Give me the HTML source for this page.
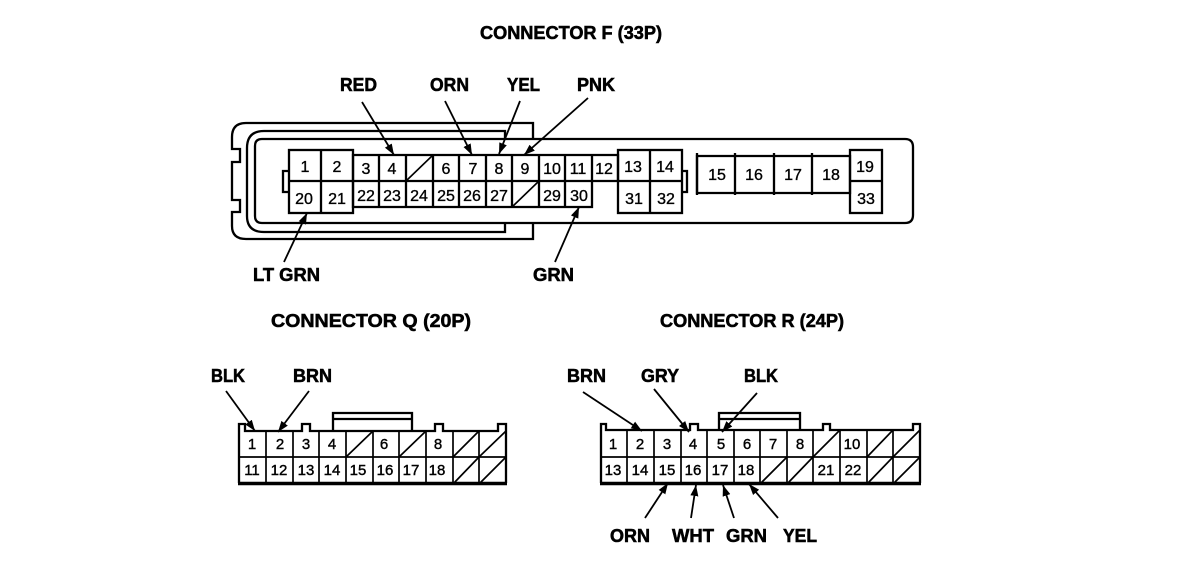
<!DOCTYPE html>
<html><head><meta charset="utf-8"><style>
html,body{margin:0;padding:0;background:#fff}
svg{display:block}
.l{font:bold 18px "Liberation Sans",sans-serif;fill:#000;stroke:#000;stroke-width:.55}
.n text{font:16px "Liberation Sans",sans-serif;text-anchor:middle;fill:#000;stroke:#000;stroke-width:.35}
.m text{font:15px "Liberation Sans",sans-serif;text-anchor:middle;fill:#000;stroke:#000;stroke-width:.4}
.s{fill:none;stroke:#000;stroke-width:2.3}
.t{fill:none;stroke:#000;stroke-width:1.6}
.d{fill:none;stroke:#000;stroke-width:1.7}
.a{fill:none;stroke:#000;stroke-width:1.8;marker-end:url(#h)}
</style></head><body>
<svg width="1184" height="570" viewBox="0 0 1184 570" xmlns="http://www.w3.org/2000/svg">
<defs><marker id="h" markerUnits="userSpaceOnUse" markerWidth="13" markerHeight="10" refX="11" refY="5" orient="auto"><path d="M0,1L11,5L0,9Z" fill="#000"/></marker></defs>

<!-- titles -->
<text class="l" x="480" y="39" textLength="182" lengthAdjust="spacingAndGlyphs">CONNECTOR F (33P)</text>
<text class="l" x="271" y="327" textLength="200" lengthAdjust="spacingAndGlyphs">CONNECTOR Q (20P)</text>
<text class="l" x="660" y="327" textLength="184" lengthAdjust="spacingAndGlyphs">CONNECTOR R (24P)</text>
<!-- labels -->
<text class="l" x="340" y="91" textLength="37" lengthAdjust="spacingAndGlyphs">RED</text>
<text class="l" x="430" y="91" textLength="39" lengthAdjust="spacingAndGlyphs">ORN</text>
<text class="l" x="507" y="91" textLength="33" lengthAdjust="spacingAndGlyphs">YEL</text>
<text class="l" x="577" y="91" textLength="38" lengthAdjust="spacingAndGlyphs">PNK</text>
<text class="l" x="253" y="281" textLength="67" lengthAdjust="spacingAndGlyphs">LT GRN</text>
<text class="l" x="533" y="281" textLength="41" lengthAdjust="spacingAndGlyphs">GRN</text>
<text class="l" x="211" y="382" textLength="34" lengthAdjust="spacingAndGlyphs">BLK</text>
<text class="l" x="293" y="382" textLength="39" lengthAdjust="spacingAndGlyphs">BRN</text>
<text class="l" x="567" y="382" textLength="39" lengthAdjust="spacingAndGlyphs">BRN</text>
<text class="l" x="641" y="382" textLength="38" lengthAdjust="spacingAndGlyphs">GRY</text>
<text class="l" x="744" y="382" textLength="34" lengthAdjust="spacingAndGlyphs">BLK</text>
<text class="l" x="610" y="542" textLength="40" lengthAdjust="spacingAndGlyphs">ORN</text>
<text class="l" x="672" y="542" textLength="42" lengthAdjust="spacingAndGlyphs">WHT</text>
<text class="l" x="726" y="542" textLength="41" lengthAdjust="spacingAndGlyphs">GRN</text>
<text class="l" x="783" y="542" textLength="34" lengthAdjust="spacingAndGlyphs">YEL</text>

<!-- connector F shell -->
<path class="s" d="M533,139V123H246Q232,123 232,137V149H240V162H232V200H240V212H232V226Q232,239 246,239H533V223"/>
<path class="s" d="M505,139V131H264Q247,131 247,148V216Q247,232 264,232H505V223"/>
<path class="s" d="M520,139H905Q913,139 913,147V215Q913,223 905,223H262Q255,223 255,216V146Q255,139 262,139H520"/>
<path class="s" d="M289,171H283V192H289M682,171H687V192H682"/>

<!-- connector F cells -->
<rect x="289" y="150" width="64" height="63" fill="#fff" class="s"/>
<path class="s" d="M321,150V213M289,181H353"/>
<path fill="#fff" class="s" d="M353,155H618V181H592V207H353Z"/>
<path class="s" d="M353,181H592M379,155V207M406,155V207M433,155V207M459,155V207M486,155V207M512,155V207M539,155V207M565,155V207M592,155V181"/>
<path class="t" d="M406,181L433,155M512,207L539,181"/>
<rect x="618" y="150" width="64" height="63" fill="#fff" class="s"/>
<path class="s" d="M650,150V213M618,181H682"/>
<path class="s" d="M697,156H850V193H697Z"/>
<path class="s" d="M697,153V195M735,153V195M774,153V195M812,153V195"/>
<rect x="850" y="150" width="32" height="63" fill="#fff" class="s"/>
<path class="s" d="M850,181H882"/>

<g class="n">
<text x="305" y="172">1</text><text x="337" y="172">2</text>
<text x="366" y="174">3</text><text x="392" y="174">4</text><text x="446" y="174">6</text><text x="473" y="174">7</text><text x="499" y="174">8</text><text x="525" y="174">9</text><text x="552" y="174">10</text><text x="578" y="174">11</text><text x="604" y="174">12</text>
<text x="304" y="204">20</text><text x="337" y="204">21</text>
<text x="366" y="201">22</text><text x="392" y="201">23</text><text x="419" y="201">24</text><text x="446" y="201">25</text><text x="472" y="201">26</text><text x="499" y="201">27</text><text x="552" y="201">29</text><text x="579" y="201">30</text>
<text x="633" y="172">13</text><text x="665" y="172">14</text><text x="634" y="204">31</text><text x="666" y="204">32</text>
<text x="717" y="180">15</text><text x="754" y="180">16</text><text x="793" y="180">17</text><text x="831" y="180">18</text>
<text x="865" y="172">19</text><text x="866" y="204">33</text>
</g>

<!-- connector Q -->
<path class="s" d="M333,431V413H412V431M333,419H412"/>
<path class="s" d="M239,483V424H245V431H302V424H310V431H435V424H443V431H498V424H506V483"/>
<path d="M238,483.5H507" stroke="#000" stroke-width="3.4" fill="none"/>
<path class="d" d="M239,457H506M266,431V484M293,431V484M319,431V484M346,431V484M373,431V484M399,431V484M426,431V484M453,431V484M479,431V484"/>
<path class="d" d="M346,457L373,431M399,457L426,431M453,457L479,431M479,457L506,431M453,484L479,457M479,484L506,457"/>
<g class="m">
<text x="252" y="449">1</text><text x="280" y="449">2</text><text x="306" y="449">3</text><text x="332" y="449">4</text><text x="384" y="449">6</text><text x="438" y="449">8</text>
<text x="252" y="475">11</text><text x="279" y="475">12</text><text x="306" y="475">13</text><text x="332" y="475">14</text><text x="358" y="475">15</text><text x="385" y="475">16</text><text x="411" y="475">17</text><text x="437" y="475">18</text>
</g>

<!-- connector R -->
<path class="s" d="M719,430V413H800V430M719,419H800"/>
<path class="s" d="M601,483V424H606V430H690V424H698V430H823V424H830V430H913V424H920V483"/>
<path d="M600,483.5H921" stroke="#000" stroke-width="3.4" fill="none"/>
<path class="d" d="M601,457H920M627,430V484M654,430V484M681,430V484M707,430V484M734,430V484M760,430V484M787,430V484M813,430V484M840,430V484M867,430V484M893,430V484"/>
<path class="d" d="M813,457L840,430M867,457L893,430M893,457L920,430M760,484L787,457M787,484L813,457M867,484L893,457M893,484L920,457"/>
<g class="m">
<text x="613" y="449">1</text><text x="640" y="449">2</text><text x="667" y="449">3</text><text x="693" y="449">4</text><text x="721" y="449">5</text><text x="747" y="449">6</text><text x="773" y="449">7</text><text x="800" y="449">8</text><text x="852" y="449">10</text>
<text x="613" y="475">13</text><text x="640" y="475">14</text><text x="667" y="475">15</text><text x="693" y="475">16</text><text x="720" y="475">17</text><text x="746" y="475">18</text><text x="826" y="475">21</text><text x="853" y="475">22</text>
</g>

<!-- arrows -->
<path class="a" d="M362,102L394,155"/>
<path class="a" d="M445,101L472,155"/>
<path class="a" d="M520,101L499,154"/>
<path class="a" d="M588,98L524,155"/>
<path class="a" d="M284,262L307,213"/>
<path class="a" d="M555,262L579,207"/>
<path class="a" d="M226,391L255,431"/>
<path class="a" d="M309,391L278,432"/>
<path class="a" d="M583,392L642,431"/>
<path class="a" d="M654,389L689,432"/>
<path class="a" d="M757,393L722,432"/>
<path class="a" d="M645,518L668,483"/>
<path class="a" d="M691,518L696,485"/>
<path class="a" d="M734,518L723,485"/>
<path class="a" d="M778,518L749,484"/>
</svg>
</body></html>
